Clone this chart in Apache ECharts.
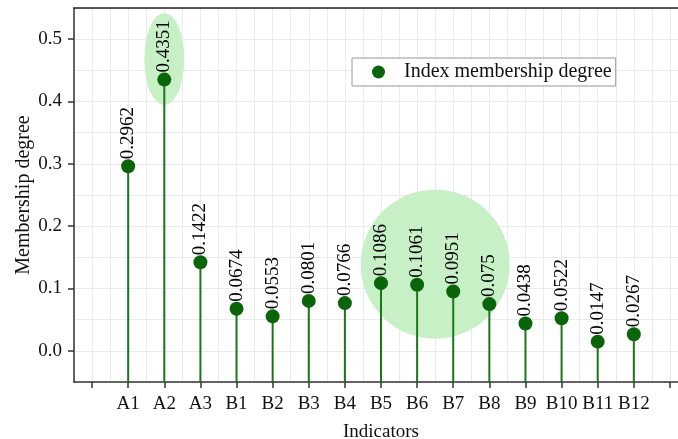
<!DOCTYPE html>
<html>
<head>
<meta charset="utf-8">
<script src="https://cdn.jsdelivr.net/npm/echarts@6/dist/echarts.min.js"></script>
<style>
    html, body { margin: 0; padding: 0; background: #fff; }
    #chart { width: 678px; height: 439px; }
</style>
</head>
<body>
<div id="chart"></div>
<script>
// indicators, with an empty slot at each end (as in the original axis)
var categories = ['', 'A1', 'A2', 'A3', 'B1', 'B2', 'B3', 'B4', 'B5', 'B6', 'B7', 'B8', 'B9', 'B10', 'B11', 'B12', '']
var membership = [0.2962, 0.4351, 0.1422, 0.0674, 0.0553, 0.0801, 0.0766, 0.1086, 0.1061, 0.0951, 0.075, 0.0438, 0.0522, 0.0147, 0.0267]
var yTickLabels = ['0.0', '0.1', '0.2', '0.3', '0.4', '0.5']
// highlight shapes: [x position, y value]
var highlightA2 = [2, 0.468]
var highlightB = [9.5, 0.139]

var font = '"Liberation Serif", "Times New Roman", serif'
var yMin = -0.05
var yMax = 0.55

var points = membership.map(function (v, i) { return [i + 1, v] })

var chart = echarts.init(document.getElementById('chart'))

chart.setOption({
    animation: false,
    backgroundColor: '#fff',
    grid: { left: 74, right: -10, top: 8, bottom: 57, containLabel: false, outerBoundsMode: 'none' },
    legend: {
        data: ['Index membership degree'],
        left: 352,
        top: 58,
        orient: 'vertical',
        padding: [4, 4, 4, 20],
        borderColor: '#999',
        borderWidth: 1,
        backgroundColor: '#fff',
        itemWidth: 13,
        itemHeight: 13,
        icon: 'circle',
        itemStyle: { opacity: 1 },
        textStyle: { fontFamily: font, fontSize: 20, color: '#111', padding: [0, 0, 0, 14] }
    },
    xAxis: [{
        // value axis used for positions + grid
        type: 'value',
        position: 'top',
        min: -0.5,
        max: 16.5,
        interval: 0.5,
        axisLine: { show: true, onZero: false, lineStyle: { color: '#222', width: 1.5 } },
        axisTick: { show: false },
        axisLabel: { show: false },
        splitLine: { show: true, lineStyle: { color: '#ebebeb', width: 1 } }
    }, {
        type: 'category',
        position: 'bottom',
        data: categories,
        boundaryGap: true,
        axisLine: { show: true, onZero: false, lineStyle: { color: '#333', width: 1.5 } },
        axisTick: { show: true, alignWithLabel: true, length: 6, inside: false, lineStyle: { color: '#333', width: 1.5 } },
        axisLabel: { interval: 0, margin: 13, fontFamily: font, fontSize: 19, color: '#111' },
        splitLine: { show: false },
        name: 'Indicators',
        nameLocation: 'middle',
        nameGap: 41,
        nameTextStyle: { fontFamily: font, fontSize: 19, color: '#111' }
    }],
    yAxis: [{
        type: 'value',
        min: yMin,
        max: yMax,
        interval: 0.05,
        axisLine: { show: false },
        axisTick: { show: false },
        axisLabel: { show: false },
        splitLine: { show: true, lineStyle: { color: '#ebebeb', width: 1 } }
    }, {
        type: 'category',
        position: 'left',
        data: yTickLabels,
        boundaryGap: true,
        axisLine: { show: true, onZero: false, lineStyle: { color: '#333', width: 1.5 } },
        axisTick: { show: true, alignWithLabel: true, length: 6, lineStyle: { color: '#333', width: 1.5 } },
        axisLabel: { margin: 12, fontFamily: font, fontSize: 19, color: '#111' },
        splitLine: { show: false },
        name: 'Membership degree',
        nameLocation: 'middle',
        nameGap: 40,
        nameMoveOverlap: false,
        nameRotate: 90,
        nameTextStyle: { fontFamily: font, fontSize: 20, color: '#111' }
    }],
    series: [{
        name: 'highlight',
        type: 'scatter',
        xAxisIndex: 0,
        yAxisIndex: 0,
        z: 1,
        silent: true,
        symbol: 'circle',
        data: [
            { value: highlightA2, symbolSize: [40, 92] },
            { value: highlightB, symbolSize: [149, 149] }
        ],
        itemStyle: { color: '#c8f0c6', opacity: 1 }
    }, {
        name: 'stems',
        type: 'custom',
        xAxisIndex: 0,
        yAxisIndex: 0,
        z: 2,
        data: points,
        renderItem: function (params, api) {
            var top = api.coord([api.value(0), api.value(1)])
            var bottom = api.coord([api.value(0), yMin])
            return {
                type: 'line',
                shape: { x1: top[0], y1: top[1], x2: bottom[0], y2: bottom[1] },
                style: { stroke: '#1a761a', lineWidth: 2 }
            }
        }
    }, {
        name: 'Index membership degree',
        type: 'scatter',
        xAxisIndex: 0,
        yAxisIndex: 0,
        z: 3,
        data: points,
        symbol: 'circle',
        symbolSize: 14,
        itemStyle: { color: '#0a640a', opacity: 1 },
        label: {
            show: true,
            position: 'top',
            rotate: 90,
            align: 'left',
            verticalAlign: 'middle',
            distance: 0,
            fontFamily: font,
            fontSize: 19,
            color: '#000',
            formatter: function (p) { return String(p.value[1]) }
        }
    }]
})
</script>
</body>
</html>
